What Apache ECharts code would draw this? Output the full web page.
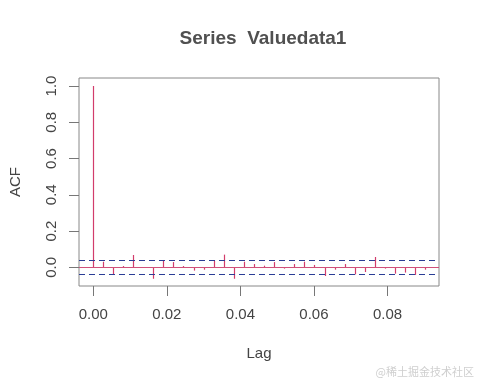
<!DOCTYPE html>
<html>
<head>
<meta charset="utf-8">
<script src="https://cdn.jsdelivr.net/npm/echarts@6/dist/echarts.min.js"></script>
<style>html,body{margin:0;padding:0;background:#fff;}#c{width:480px;height:384px;}</style>
</head>
<body>
<div id="c"></div>
<script>
const lags = [0, 0.00274, 0.00548, 0.00822, 0.01096, 0.0137, 0.01644, 0.01918, 0.02192, 0.02466,
  0.0274, 0.03014, 0.03288, 0.03562, 0.03836, 0.0411, 0.04384, 0.04658, 0.04932, 0.05205,
  0.05479, 0.05753, 0.06027, 0.06301, 0.06575, 0.06849, 0.07123, 0.07397, 0.07671, 0.07945,
  0.08219, 0.08493, 0.08767, 0.09041];
const acf = [1, 0.031, -0.039, 0.007, 0.068, -0.002, -0.063, 0.037, 0.029, 0.007,
  -0.018, -0.013, 0.037, 0.070, -0.063, 0.031, 0.018, 0.009, 0.029, -0.007,
  0.018, 0.031, 0.013, -0.048, -0.013, 0.018, -0.039, -0.026, 0.057, -0.007,
  -0.035, -0.029, -0.042, -0.013];
const xTicks = [0, 0.02, 0.04, 0.06, 0.08];
const yTicks = [0, 0.2, 0.4, 0.6, 0.8, 1.0];
const ciLimit = 0.044;
const title = 'Series  Valuedata1';

const spikeColor = '#d23c6c';
const chart = echarts.init(document.getElementById('c'));
const labelFont = {fontFamily: 'Liberation Sans, Arial, sans-serif', fontSize: 15, color: '#444'};
const snap = v => Math.round(v - 0.5) + 0.5;
chart.setOption({
  animation: false,
  backgroundColor: '#fff',
  color: [spikeColor],
  title: {
    text: title, left: 258, top: 24, textAlign: 'center',
    textStyle: {fontFamily: 'Liberation Sans, Arial, sans-serif', fontSize: 19, fontWeight: 'bold', color: '#505050'}
  },
  grid: {left: 78, right: 41, top: 78, bottom: 98, show: true, borderColor: '#888', borderWidth: 1},
  xAxis: {
    type: 'value', min: -0.00388, max: 0.0940,
    name: 'Lag', nameLocation: 'middle', nameGap: 60,
    nameTextStyle: labelFont,
    axisLine: {show: false, onZero: false},
    splitLine: {show: false},
    axisTick: {show: true, length: 10, lineStyle: {color: '#777'}, customValues: xTicks},
    axisLabel: Object.assign({margin: 21, customValues: xTicks, formatter: v => v.toFixed(2)}, labelFont)
  },
  yAxis: {
    type: 'value', min: -0.103, max: 1.044,
    name: 'ACF', nameLocation: 'middle', nameGap: 56, nameRotate: 90,
    nameTextStyle: labelFont,
    axisLine: {show: false, onZero: false},
    splitLine: {show: false},
    axisTick: {show: true, length: 10, lineStyle: {color: '#777'}, customValues: yTicks},
    axisLabel: Object.assign({margin: 20, rotate: 90, customValues: yTicks, formatter: v => v.toFixed(1)}, labelFont)
  },
  series: [{
    type: 'custom',
    itemStyle: {color: spikeColor},
    data: lags.map((l, i) => [l, acf[i]]),
    renderItem: function (params, api) {
      const p0 = api.coord([api.value(0), 0]);
      const p1 = api.coord([api.value(0), api.value(1)]);
      const x = snap(p0[0]);
      return {type: 'line', shape: {x1: x, y1: p0[1], x2: x, y2: p1[1]},
        style: {stroke: spikeColor, fill: null, lineWidth: 1.2}};
    },
    markLine: {
      silent: true, symbol: 'none', label: {show: false},
      data: [
        {yAxis: 0, lineStyle: {color: '#d0507a', type: 'solid', width: 1}},
        {yAxis: ciLimit, lineStyle: {color: '#2a3d96', type: [6, 4], width: 1}},
        {yAxis: -ciLimit, lineStyle: {color: '#2a3d96', type: [6, 4], width: 1}}
      ]
    }
  }],
  graphic: [{
    type: 'text', right: 6, top: 366,
    style: {text: '@稀土掘金技术社区', font: '11px "Noto Sans CJK SC", sans-serif', fill: '#cfcfcf'}
  }]
});
</script>
</body>
</html>
